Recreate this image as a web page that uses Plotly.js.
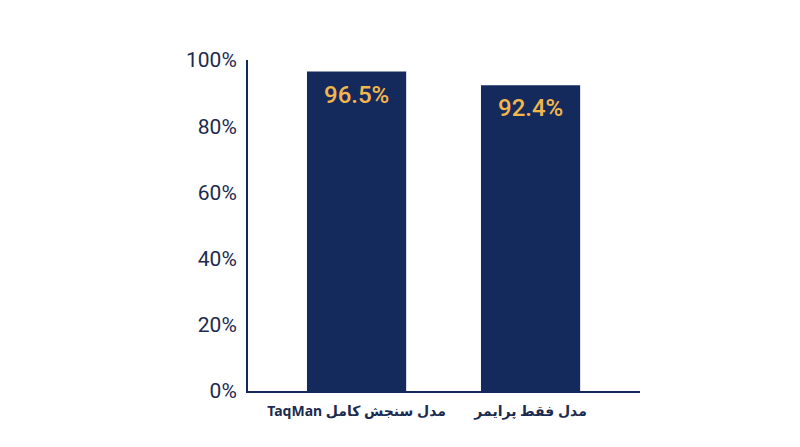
<!DOCTYPE html>
<html><head><meta charset="utf-8">
<script src="https://cdn.plot.ly/plotly-3.0.1.min.js"></script>
<style>body{margin:0;background:#fff}#c{width:800px;height:447px}</style>
</head><body><div id="c"></div>
<script>
const categories = ["\u202Bمدل سنجش کامل TaqMan\u202C", "\u202Bمدل فقط پرایمر\u202C"];
const values = [96.5, 92.4];
const valueLabels = ["96.5%", "92.4%"];
const yTickVals = [0, 20, 40, 60, 80, 100];
const yTickText = ["0%", "20%", "40%", "60%", "80%", "100%"];

const navy = "#142a5c";
const trace = {
  type: "bar", x: [0, 1], y: values,
  marker: {color: navy}, hoverinfo: "none"
};
const annotations = values.map((v, i) => ({
  x: i, y: v, xref: "x", yref: "y", text: valueLabels[i], showarrow: false,
  yanchor: "top", yshift: -7,
  font: {family: "Roboto", size: 24, color: "#f2b64c", weight: 500}
}));
const layout = {
  width: 800, height: 447,
  margin: {l: 248, r: 160, t: 60, b: 56},
  paper_bgcolor: "#fff", plot_bgcolor: "#fff",
  bargap: 0.43, showlegend: false,
  xaxis: {
    range: [-0.624, 1.629], tickvals: [0, 1], ticktext: categories,
    showline: true, linecolor: navy, linewidth: 2, ticks: "", showgrid: false, zeroline: false,
    tickfont: {family: "Noto Sans, DejaVu Sans", size: 14, color: "#1c2b4f", weight: "bold"},
    ticklabelstandoff: 6
  },
  yaxis: {
    range: [0, 100], tickvals: yTickVals, ticktext: yTickText,
    showline: true, linecolor: navy, linewidth: 2, ticks: "", showgrid: false, zeroline: false,
    tickfont: {family: "Roboto", size: 21, color: "#1c2b4f"}, ticklabelstandoff: 5
  },
  annotations: annotations
};
Plotly.newPlot("c", [trace], layout, {staticPlot: true});
</script></body></html>
